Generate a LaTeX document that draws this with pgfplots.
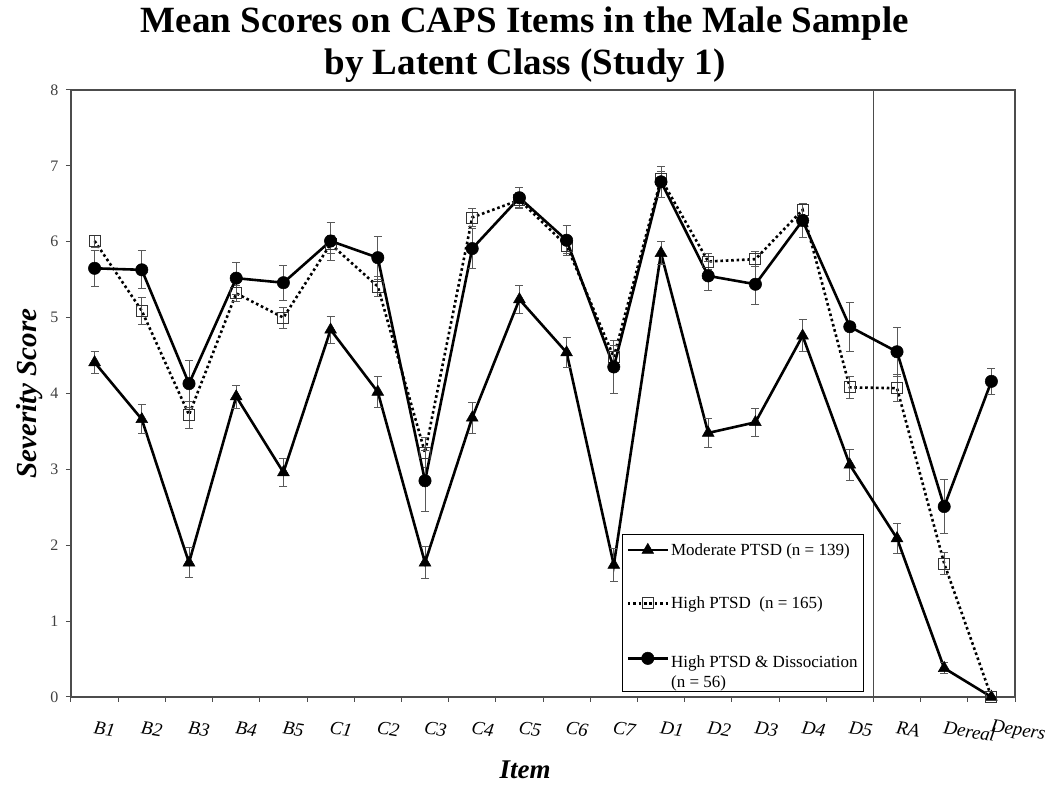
\documentclass[border=0pt]{standalone}
\usepackage{fontspec}
\setmainfont{Liberation Serif}
\usepackage{pgfplots}
\usepackage{pgfplotstable}
\pgfplotsset{compat=1.18}
\pgfplotsset{tallimage/.style={legend image code/.code={\path (0pt,-17pt) (40pt,17pt);\draw[mark repeat=2,mark phase=2,##1] plot coordinates {(0pt,8pt) (20pt,8pt) (40pt,8pt)};}}}

\pgfplotstableread{
x y e
0.5 4.41 0.15
1.5 3.66 0.19
2.5 1.77 0.20
3.5 3.96 0.15
4.5 2.96 0.18
5.5 4.84 0.18
6.5 4.02 0.20
7.5 1.77 0.21
8.5 3.68 0.20
9.5 5.24 0.18
10.5 4.54 0.20
11.5 1.74 0.22
12.5 5.85 0.15
13.5 3.48 0.19
14.5 3.62 0.18
15.5 4.76 0.21
16.5 3.06 0.20
17.5 2.09 0.20
18.5 0.38 0.07
19.5 0.00 0.00
}\moderate

\pgfplotstableread{
x y e
0.5 6.01 0.08
1.5 5.09 0.18
2.5 3.72 0.18
3.5 5.32 0.11
4.5 5.00 0.14
5.5 5.97 0.12
6.5 5.41 0.13
7.5 3.22 0.20
8.5 6.32 0.12
9.5 6.55 0.10
10.5 5.95 0.10
11.5 4.48 0.15
12.5 6.83 0.10
13.5 5.74 0.10
14.5 5.77 0.10
15.5 6.42 0.08
16.5 4.08 0.15
17.5 4.07 0.18
18.5 1.76 0.15
19.5 0.00 0.00
}\high

\pgfplotstableread{
x y e
0.5 5.65 0.24
1.5 5.63 0.25
2.5 4.13 0.31
3.5 5.52 0.21
4.5 5.46 0.23
5.5 6.01 0.25
6.5 5.79 0.28
7.5 2.85 0.40
8.5 5.91 0.26
9.5 6.58 0.14
10.5 6.02 0.20
11.5 4.35 0.35
12.5 6.79 0.20
13.5 5.55 0.19
14.5 5.44 0.26
15.5 6.28 0.22
16.5 4.88 0.32
17.5 4.55 0.32
18.5 2.51 0.36
19.5 4.16 0.17
}\dissoc

\begin{document}
\begin{tikzpicture}
\useasboundingbox (-71pt,-89pt) rectangle (979pt,697pt);
\node[font=\fontsize{37}{42}\selectfont\bfseries, align=center] at (454pt,652pt)
  {Mean Scores on CAPS Items in the Male Sample\\by Latent Class (Study 1)};
\begin{axis}[
  at={(0pt,0pt)}, anchor=south west,
  scale only axis, width=944pt, height=607pt,
  xmin=0, xmax=20, ymin=0, ymax=8,
  xtick={0,...,20},
  xticklabels={B1,B2,B3,B4,B5,C1,C2,C3,C4,C5,C6,C7,D1,D2,D3,D4,D5,RA,Dereal,Depers},
  x tick label as interval,
  ytick={0,...,8},
  /pgf/number format/assume math mode=true,
  tick align=outside, xtick pos=bottom, ytick pos=left,
  major tick length=5pt,
  tick style={black!70, line width=1pt},
  axis line style={black!70, line width=1.2pt},
  xticklabel style={font=\fontsize{19}{19}\selectfont\itshape, rotate=-9, anchor=west, yshift=-25pt, xshift=0pt},
  yticklabel style={font=\fontsize{16}{16}\selectfont, text=black!75, xshift=-4pt},
  every axis y label/.style={at={(axis description cs:0,0.5)}, xshift=-41pt, rotate=90, anchor=center},
  every axis x label/.style={at={(axis description cs:0.481,0)}, yshift=-73pt, anchor=center},
  ylabel={\fontsize{29}{29}\selectfont\bfseries\itshape Severity Score},
  xlabel={\fontsize{27}{27}\selectfont\bfseries\itshape Item},
  legend image code/.code={\draw[mark repeat=2,mark phase=2,#1] plot coordinates {(0pt,0pt) (20pt,0pt) (40pt,0pt)};},
  legend style={at={(axis description cs:0.5837,0.008)}, anchor=south west,
    draw=black, line width=1pt, font=\fontsize{17}{20}\selectfont,
    row sep=36pt, inner xsep=4pt, inner ysep=7pt,
    cells={anchor=west}},
  error bars/y dir=both, error bars/y explicit,
  error bars/error bar style={black!65, line width=0.8pt, solid},
  error bars/error mark options={black!65, line width=0.8pt, mark size=4pt, rotate=90, solid},
]
\draw[black!70, line width=1pt] (axis cs:17,0) -- (axis cs:17,8);
\addplot[black, line width=2.6pt, mark=triangle*, mark size=6.8pt, mark options={solid, line width=0.5pt}]
  table[x=x, y=y, y error=e] {\moderate};
\addlegendentry{Moderate PTSD (n = 139)}
\addplot[black, line width=2.6pt, dash pattern=on 2.6pt off 2.8pt, mark=square, mark size=5.5pt, mark options={solid, line width=0.9pt, black!80}]
  table[x=x, y=y, y error=e] {\high};
\addlegendentry{High PTSD\ \ (n = 165)}
\addplot[black, line width=2.6pt, mark=*, mark size=6.2pt, mark options={solid, line width=0.5pt}, tallimage]
  table[x=x, y=y, y error=e] {\dissoc};
\addlegendentry{\begin{tabular}{@{}l@{}}High PTSD \& Dissociation\\(n = 56)\end{tabular}}
\end{axis}
\end{tikzpicture}
\end{document}
